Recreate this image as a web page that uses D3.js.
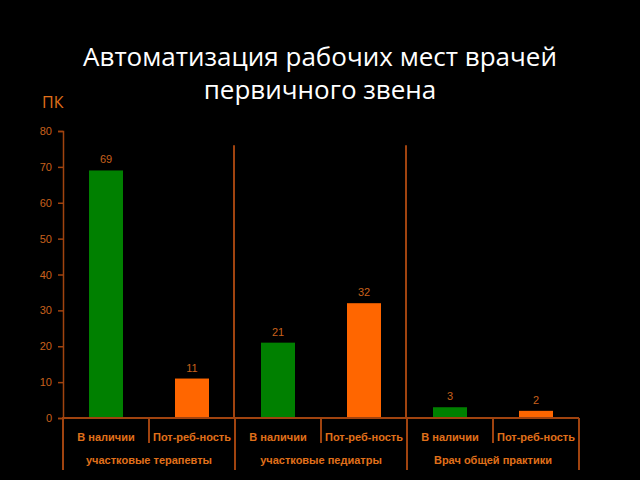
<!DOCTYPE html>
<html><head><meta charset="utf-8">
<script src="https://cdn.jsdelivr.net/npm/d3@7"></script>
<style>body{margin:0;background:#000;}svg{display:block;}</style>
</head><body><svg id="c" width="640" height="480"></svg>
<script>
const groups = ["участковые терапевты", "участковые педиатры", "Врач общей практики"];
const categories = ["В наличии", "Пот-реб-ность", "В наличии", "Пот-реб-ность", "В наличии", "Пот-реб-ность"];
const values = [69, 11, 21, 32, 3, 2];
const yTicks = [0, 10, 20, 30, 40, 50, 60, 70, 80];
const titleLines = ["Автоматизация рабочих мест врачей", "первичного звена"];
const unitLabel = "ПК";

const svg = d3.select("#c");
svg.append("rect").attr("width",640).attr("height",480).attr("fill","#000");
const axisCol = "#a0430f", textCol = "#e0701a", tickCol = "#c8601c";
const colors = ["#008000", "#ff6600"];
const x0 = 63, x1 = 579, yTop = 131, yBot = 418;
const x = d3.scaleBand().domain(d3.range(categories.length)).range([x0, x1]).paddingInner(0).paddingOuter(0);
const y = d3.scaleLinear().domain([0, 80]).range([yBot, yTop]);

svg.selectAll("text.title").data(titleLines).join("text")
  .attr("x", 320).attr("y", (d,i)=>66 + i*33).attr("text-anchor","middle")
  .attr("fill","#fff").attr("font-family","'Open Sans', 'DejaVu Sans', sans-serif").attr("font-size",26)
  .text(d=>d);
svg.append("text").attr("x",42).attr("y",108).attr("fill",textCol)
  .attr("font-family","'Open Sans', sans-serif").attr("font-size",16).text(unitLabel);

// y axis
const yAxis = d3.axisLeft(y).tickValues(yTicks).tickSize(5).tickPadding(6);
const gy = svg.append("g").attr("transform",`translate(${x0},0)`).call(yAxis);
gy.select(".domain").attr("stroke",axisCol).attr("stroke-width",1.5);
gy.selectAll(".tick line").attr("stroke",axisCol).attr("stroke-width",1.5);
gy.selectAll(".tick text").attr("fill",tickCol).attr("font-family","Arial, 'Liberation Sans', sans-serif").attr("font-size",11);

// group separators in plot area
[2,4].forEach(i=>{
  svg.append("line").attr("x1",x(i)-1).attr("x2",x(i)-1).attr("y1",y(76)).attr("y2",yBot)
    .attr("stroke",axisCol).attr("stroke-width",2);
});

// bars
const bw = 34;
svg.selectAll("rect.bar").data(values).join("rect").attr("class","bar")
  .attr("x",(d,i)=>x(i)+x.bandwidth()/2-bw/2).attr("width",bw)
  .attr("y",d=>y(d)).attr("height",d=>yBot-y(d))
  .attr("fill",(d,i)=>colors[i%2]);
svg.selectAll("text.val").data(values).join("text")
  .attr("x",(d,i)=>x(i)+x.bandwidth()/2).attr("y",d=>y(d)-7)
  .attr("text-anchor","middle").attr("fill",tickCol)
  .attr("font-family","Arial, 'Liberation Sans', sans-serif").attr("font-size",11).text(d=>d);

// x axis line
svg.append("line").attr("x1",x0-1).attr("x2",x1).attr("y1",yBot).attr("y2",yBot).attr("stroke",axisCol).attr("stroke-width",2);
// category separators
d3.range(categories.length+1).forEach(i=>{
  const xx = i===categories.length ? x1 : x(i);
  const isGroup = i%2===0;
  svg.append("line").attr("x1",xx).attr("x2",xx).attr("y1",yBot).attr("y2",isGroup?470:443)
    .attr("stroke",axisCol).attr("stroke-width",2);
});
svg.selectAll("text.cat").data(categories).join("text")
  .attr("x",(d,i)=>x(i)+x.bandwidth()/2).attr("y",441).attr("text-anchor","middle")
  .attr("fill",textCol).attr("font-weight","bold")
  .attr("font-family","Arial, 'Liberation Sans', sans-serif").attr("font-size",11).text(d=>d);
svg.selectAll("text.grp").data(groups).join("text")
  .attr("x",(d,i)=>x(i*2)+x.bandwidth()).attr("y",464).attr("text-anchor","middle")
  .attr("fill",textCol).attr("font-weight","bold")
  .attr("font-family","Arial, 'Liberation Sans', sans-serif").attr("font-size",11).text(d=>d);
</script></body></html>
